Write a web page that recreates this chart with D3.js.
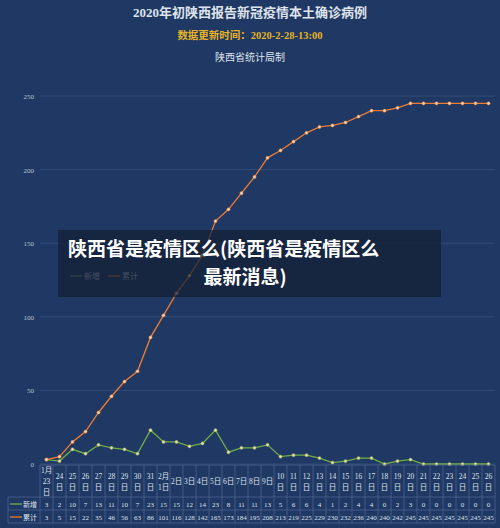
<!DOCTYPE html>
<html><head><meta charset="utf-8">
<script src="https://cdn.jsdelivr.net/npm/d3@7"></script>
<style>body{margin:0;background:#1f3864;}svg{display:block;font-family:"Liberation Serif","Noto Sans CJK SC",serif;}</style>
</head><body><div id="chart"></div>
<script>
// data
var dates = ['1月\n23\n日','24\n日','25\n日','26\n日','27\n日','28\n日','29\n日','30\n日','31\n日','2月\n1日',
  '2日','3日','4日','5日','6日','7日','8日','9日',
  '10\n日','11\n日','12\n日','13\n日','14\n日','15\n日','16\n日','17\n日','18\n日','19\n日','20\n日','21\n日','22\n日','23\n日','24\n日','25\n日','26\n日'];
var newCases = [3,2,10,7,13,11,10,7,23,15,15,12,14,23,8,11,11,13,5,6,6,4,1,2,4,4,0,2,3,0,0,0,0,0,0];
var totalCases = [3,5,15,22,35,46,56,63,86,101,116,128,142,165,173,184,195,208,213,219,225,229,230,232,236,240,240,242,245,245,245,245,245,245,245];
var yTicks = [0,50,100,150,200,250];

var W = 500, H = 528, left = 40, right = 495;
var svg = d3.select('#chart').append('svg').attr('width', W).attr('height', H);
svg.append('rect').attr('width', W).attr('height', H).attr('fill', '#1f3864');

svg.append('text').attr('x', 250).attr('y', 17).attr('text-anchor', 'middle').attr('fill', '#dfe3ea')
  .attr('font-size', 13).attr('font-weight', 'bold').text('2020年初陕西报告新冠疫情本土确诊病例');
svg.append('text').attr('x', 250).attr('y', 39).attr('text-anchor', 'middle').attr('fill', '#e6b422')
  .attr('font-size', 10.5).attr('font-weight', 'bold').text('数据更新时间：2020-2-28-13:00');
svg.append('text').attr('x', 250).attr('y', 61).attr('text-anchor', 'middle').attr('fill', '#dfe3ea')
  .attr('font-size', 10).text('陕西省统计局制');

var x = d3.scaleBand().domain(d3.range(dates.length)).range([left, right]);
var y = d3.scaleLinear().domain([0, 250]).range([464, 96]);

// grid + y axis
var g = svg.append('g');
g.selectAll('line.grid').data(yTicks).enter().append('line')
  .attr('x1', left).attr('x2', right).attr('y1', y).attr('y2', y)
  .attr('stroke', '#3d5580').attr('stroke-width', 0.7);
g.selectAll('text.yt').data(yTicks).enter().append('text')
  .attr('x', 34).attr('y', function(d){ return y(d) + 3; }).attr('text-anchor', 'end')
  .attr('fill', '#b8c2d4').attr('font-size', 7).text(function(d){ return d; });

function series(vals, color){
  var line = d3.line().x(function(d,i){ return x(i) + x.bandwidth()/2; }).y(function(d){ return y(d); });
  svg.append('path').datum(vals).attr('d', line).attr('fill', 'none').attr('stroke', color).attr('stroke-width', 1.3);
  svg.selectAll(null).data(vals).enter().append('circle')
    .attr('cx', function(d,i){ return x(i) + x.bandwidth()/2; }).attr('cy', function(d){ return y(d); })
    .attr('r', 1.6).attr('fill', '#f3d6b8').attr('stroke', color).attr('stroke-width', 0.5);
}
series(newCases, '#70ad47');
series(totalCases, '#ed7d31');

// data table
var t = svg.append('g');
var rows = [465, 497, 510, 523];
var lc = '#5a7097';
rows.forEach(function(r){
  t.append('line').attr('x1', r === 465 ? left : 8).attr('x2', right).attr('y1', r).attr('y2', r).attr('stroke', lc).attr('stroke-width', 0.6);
});
t.append('line').attr('x1', 8).attr('x2', 8).attr('y1', 497).attr('y2', 523).attr('stroke', lc).attr('stroke-width', 0.6);
d3.range(dates.length + 1).forEach(function(i){
  var xx = i < dates.length ? x(i) : right;
  t.append('line').attr('x1', xx).attr('x2', xx).attr('y1', 465).attr('y2', 523).attr('stroke', lc).attr('stroke-width', 0.6);
});
dates.forEach(function(d, i){
  var parts = d.split('\n');
  var cx = x(i) + x.bandwidth()/2;
  var y0 = 481 - (parts.length - 1) * 5.5 + 3;
  parts.forEach(function(p, k){
    t.append('text').attr('x', cx).attr('y', y0 + k * 11).attr('text-anchor', 'middle')
      .attr('fill', '#dfe3ea').attr('font-size', 7.5).text(p);
  });
  t.append('text').attr('x', cx).attr('y', 507).attr('text-anchor', 'middle').attr('fill', '#dfe3ea').attr('font-size', 7).text(newCases[i]);
  t.append('text').attr('x', cx).attr('y', 520).attr('text-anchor', 'middle').attr('fill', '#dfe3ea').attr('font-size', 7).text(totalCases[i]);
});
[['新增', '#70ad47', 507], ['累计', '#ed7d31', 520]].forEach(function(r){
  t.append('line').attr('x1', 10).attr('x2', 22).attr('y1', r[2] - 3).attr('y2', r[2] - 3).attr('stroke', r[1]).attr('stroke-width', 1.3);
  t.append('text').attr('x', 23).attr('y', r[2]).attr('fill', '#dfe3ea').attr('font-size', 7).text(r[0]);
});

// legend (partly under banner)
[['新增', '#70ad47', 70], ['累计', '#ed7d31', 108]].forEach(function(r){
  svg.append('line').attr('x1', r[2]).attr('x2', r[2] + 12).attr('y1', 276).attr('y2', 276).attr('stroke', r[1]).attr('stroke-width', 1.3);
  svg.append('text').attr('x', r[2] + 14).attr('y', 279).attr('fill', '#b8c2d4').attr('font-size', 8).text(r[0]);
});

// banner overlay
svg.append('rect').attr('x', 58).attr('y', 230).attr('width', 383).attr('height', 67).attr('fill', 'rgba(20,30,50,0.72)');
svg.append('text').attr('x', 68).attr('y', 256).attr('fill', '#fff').attr('font-size', 19).attr('font-weight', 'bold')
  .attr('font-family', '"Noto Sans CJK SC",sans-serif').text('陕西省是疫情区么(陕西省是疫情区么');
svg.append('text').attr('x', 245).attr('y', 284).attr('text-anchor', 'middle').attr('fill', '#fff').attr('font-size', 19).attr('font-weight', 'bold')
  .attr('font-family', '"Noto Sans CJK SC",sans-serif').text('最新消息)');
</script></body></html>
